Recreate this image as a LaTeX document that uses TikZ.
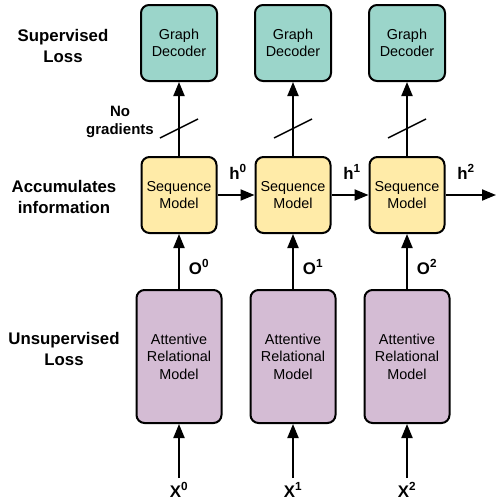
\documentclass[tikz,border=0pt]{standalone}
\usepackage{fontspec}
\setmainfont{Liberation Sans}
\usetikzlibrary{arrows.meta}
\definecolor{decc}{RGB}{155,213,202}
\definecolor{seqc}{RGB}{255,235,168}
\definecolor{armc}{RGB}{212,188,212}
\begin{document}
\begin{tikzpicture}[x=1pt,y=-1pt,
  box/.style={draw=black, line width=2pt, rounded corners=8pt, align=center, font=\fontsize{14.4}{17.4}\selectfont, inner sep=0pt},
  dec/.style={box, fill=decc, minimum width=76pt, minimum height=76pt},
  seq/.style={box, fill=seqc, minimum width=75pt, minimum height=76pt},
  arm/.style={box, fill=armc, minimum width=85pt, minimum height=133pt},
  lbl/.style={font=\fontsize{16.8}{20.5}\selectfont\bfseries, align=center, inner sep=0pt},
  sym/.style={font=\fontsize{16.8}{20}\selectfont\bfseries, inner sep=0pt},
  arr/.style={line width=2pt, -{Triangle[length=14pt,width=11pt]}},
  slash/.style={line width=1.5pt}]
\useasboundingbox (0,0) rectangle (496,501);
% left labels
\node[lbl] (sup) at (63,46) {Supervised\\Loss};
\node[lbl] (acc) at (64,197) {Accumulates\\information};
\node[lbl] (uns) at (64,349) {Unsupervised\\Loss};
\node[lbl, font=\fontsize{15}{18}\selectfont\bfseries] (nog) at (120,122) {No\\gradients};
% boxes
\foreach \i/\cx in {0/179,1/293,2/407}{
  \node[dec] (d\i) at (\cx,43) {Graph\\Decoder};
  \node[seq] (s\i) at (\cx,195) {Sequence\\Model};
  \node[arm] (a\i) at (\cx,356.5) {Attentive\\Relational\\Model};
  \coordinate (xs\i) at (\cx,478);
  \node[sym, anchor=base] (x\i) at (\cx,497) {X\textsuperscript{\i}};
  \node[sym] (o\i) at (\cx+20,267) {O\textsuperscript{\i}};
  \draw[arr] (xs\i) -- (a\i.south);
  \draw[arr] (a\i.north) -- (s\i.south);
  \draw[arr] (s\i.north) -- (d\i.south);
  \draw[slash] (\cx-19,138) -- (\cx+19,119);
  \node[sym] (h\i) at (\cx+59,172) {h\textsuperscript{\i}};
}
\coordinate (hend) at (496,195);
\draw[arr] (s0.east) -- (s1.west);
\draw[arr] (s1.east) -- (s2.west);
\draw[arr] (s2.east) -- (hend);
\end{tikzpicture}
\end{document}
